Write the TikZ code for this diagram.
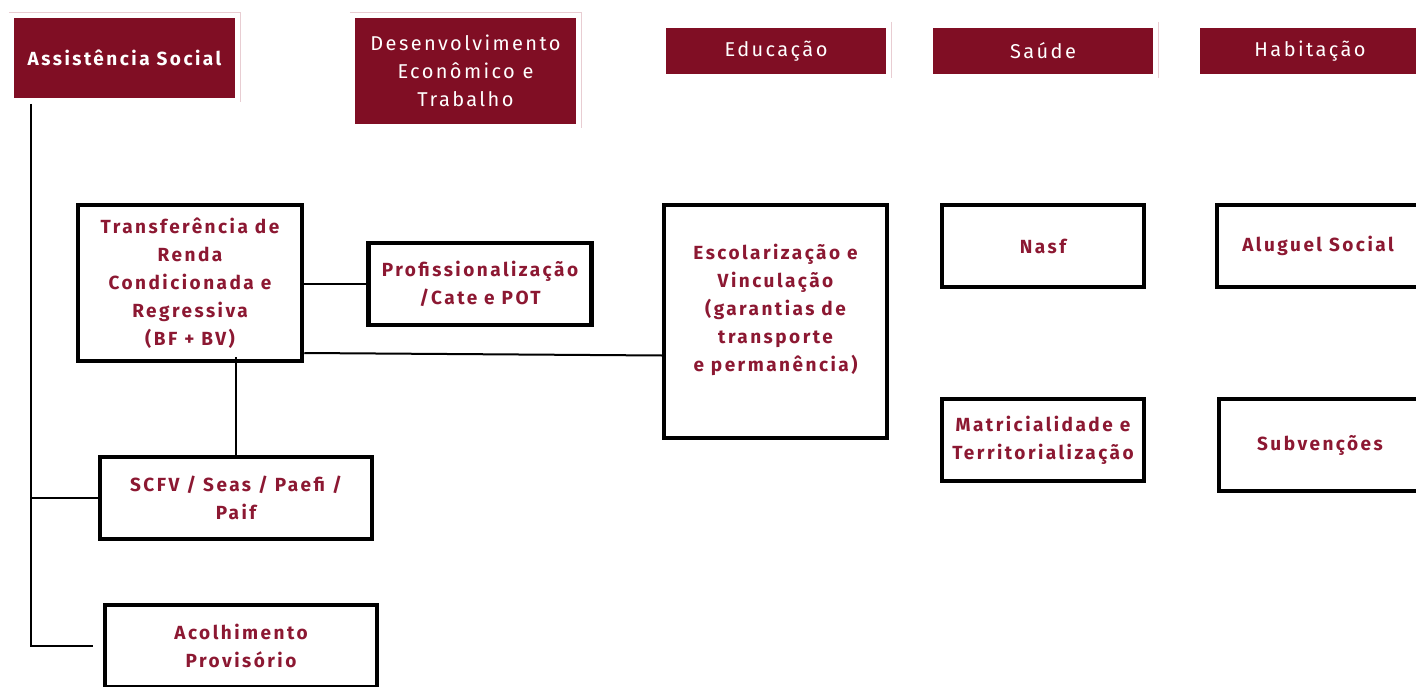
\documentclass[tikz,border=0pt]{standalone}
\usepackage{fontspec}
\setmainfont{Fira Sans}
\newfontfamily\hdrfont[LetterSpace=12]{Fira Sans}
\newfontfamily\boxfont[LetterSpace=13]{Fira Sans}
\usetikzlibrary{positioning}

\definecolor{vinho}{RGB}{128,14,36}
\definecolor{vinhotxt}{RGB}{140,24,50}
\definecolor{moldura}{RGB}{232,205,210}

\tikzset{
  hdr/.style={fill=vinho, text=white, align=center, inner sep=0pt,
    font=\hdrfont\fontsize{20}{28}\selectfont},
  box/.style={draw=black, line width=4.5pt, text=vinhotxt, align=center,
    inner sep=0pt, font=\boxfont\bfseries\fontsize{19}{28}\selectfont},
  link/.style={line width=2pt},
  frame/.style={moldura, line width=1.2pt}
}

\begin{document}
\begin{tikzpicture}[x=1pt, y=-1pt]
  \useasboundingbox (0,0) rectangle (1416,687);
  \clip (0,0) rectangle (1416,687);

  % Headers
  \node[hdr, minimum width=221pt, minimum height=80pt, font=\boxfont\bfseries\fontsize{19}{28}\selectfont]
    (assist) at (124.5,58) {Assistência Social};
  \node[hdr, minimum width=221pt, minimum height=106pt] (desenv) at (465.5,71)
    {Desenvolvimento\\Econômico e\\Trabalho};
  \node[hdr, minimum width=220pt, minimum height=46pt] (educ) at (776,51) {Educação};
  \node[hdr, minimum width=220pt, minimum height=46pt] (saude) at (1043,51) {Saúde};
  \node[hdr, minimum width=220pt, minimum height=46pt] (habit) at (1310,51) {Habitação};

  % Header frames
  \draw[frame] ([xshift=-5pt,yshift=5pt]assist.north west) -- ([xshift=5pt,yshift=5pt]assist.north east)
    -- ([xshift=5pt,yshift=-4pt]assist.south east);
  \draw[frame] ([xshift=-5pt,yshift=5pt]desenv.north west) -- ([xshift=5pt,yshift=5pt]desenv.north east)
    -- ([xshift=5pt,yshift=-4pt]desenv.south east);
  \draw[frame] ([xshift=5pt,yshift=6pt]educ.north east) -- ([xshift=5pt,yshift=-4pt]educ.south east);
  \draw[frame] ([xshift=5pt,yshift=6pt]saude.north east) -- ([xshift=5pt,yshift=-4pt]saude.south east);

  % Program boxes
  \node[box, minimum width=224pt, minimum height=156pt] (trans) at (190,283)
    {Transferência de\\Renda\\Condicionada e\\Regressiva\\(BF + BV)};
  \node[box, minimum width=223pt, minimum height=82pt] (prof) at (480,284)
    {Profissionalização\\/Cate e POT};
  \node[box, minimum width=223pt, minimum height=233pt] (esc) at (775.5,321.5)
    {Escolarização e\\Vinculação\\(garantias de\\transporte\\e permanência)\\\mbox{}};
  \node[box, minimum width=202pt, minimum height=82pt] (nasf) at (1043,246) {Nasf};
  \node[box, minimum width=202pt, minimum height=82pt] (matr) at (1043,440)
    {Matricialidade e\\Territorialização};
  \node[box, minimum width=202pt, minimum height=82pt] (alug) at (1318,246) {Aluguel Social};
  \node[box, minimum width=202pt, minimum height=92pt] (subv) at (1320,445) {Subvenções};
  \node[box, minimum width=272pt, minimum height=82pt] (scfv) at (236,498)
    {SCFV / Seas / Paefi /\\Paif};
  \node[box, minimum width=272pt, minimum height=82pt] (acol) at (241,646)
    {Acolhimento\\Provisório};

  % Connectors
  \coordinate (tronco) at (31,104);
  \draw[link] (tronco) |- ([xshift=-10pt]acol.west);
  \draw[link] (tronco |- scfv.west) -- (scfv.west);
  \draw[link] (trans.east |- prof.west) -- (prof.west);
  \draw[link] ([yshift=-70pt]trans.east) -- ([yshift=-34pt]esc.west);
  \draw[link] ([yshift=6pt]trans.south -| scfv.north) -- (scfv.north);
\end{tikzpicture}
\end{document}
